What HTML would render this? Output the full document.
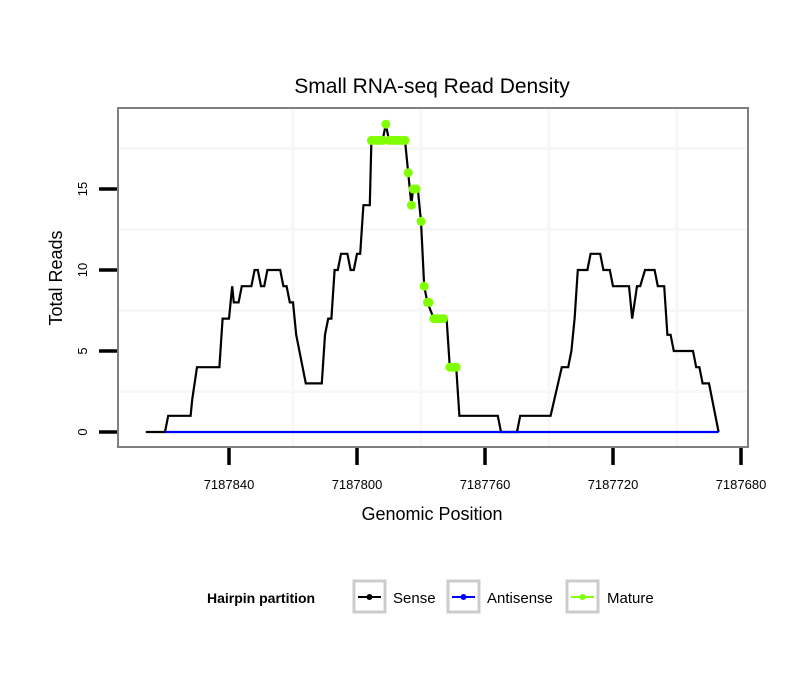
<!DOCTYPE html>
<html><head><meta charset="utf-8"><style>
body{margin:0;background:#fff;}
svg{display:block;font-family:"Liberation Sans",sans-serif;}
</style></head><body>
<svg width="810" height="690" viewBox="0 0 810 690">
<rect x="0" y="0" width="810" height="690" fill="#fff"/>
<g id="grid"></g>
<rect x="118" y="108" width="630" height="339" fill="none" stroke="#7f7f7f" stroke-width="2"/>
<g id="ticks"></g>
<g id="series"></g>
<text x="432" y="93" text-anchor="middle" font-size="21">Small RNA-seq Read Density</text>
<text x="432" y="520" text-anchor="middle" font-size="18">Genomic Position</text>
<text transform="translate(62,278) rotate(-90)" text-anchor="middle" font-size="18">Total Reads</text>
<g>
<text x="207" y="603" font-size="14" font-weight="bold">Hairpin partition</text>
<g>
<rect x="354" y="581" width="31" height="31" fill="#fff" stroke="#ccc" stroke-width="3"/>
<line x1="358" y1="597" x2="381" y2="597" stroke="#000" stroke-width="2"/><circle cx="369.5" cy="597" r="3" fill="#000"/>
<text x="393" y="603" font-size="15">Sense</text></g>
<g>
<rect x="448" y="581" width="31" height="31" fill="#fff" stroke="#ccc" stroke-width="3"/>
<line x1="452" y1="597" x2="475" y2="597" stroke="#00f" stroke-width="2"/><circle cx="463.5" cy="597" r="3" fill="#00f"/>
<text x="487" y="603" font-size="15">Antisense</text></g>
<g>
<rect x="567" y="581" width="31" height="31" fill="#fff" stroke="#ccc" stroke-width="3"/>
<line x1="571" y1="597" x2="594" y2="597" stroke="#7fff00" stroke-width="2"/><circle cx="582.5" cy="597" r="3" fill="#7fff00"/>
<text x="607" y="603" font-size="15">Mature</text></g>
</g>
</svg>
<script>
const senseX=[7187866,7187860,7187859,7187852,7187851.5,7187850,7187843,7187842,7187840,7187839,7187838.5,7187837,7187836,7187833,7187832,7187831,7187830,7187829,7187828,7187824,7187823,7187822,7187821,7187820,7187819,7187816,7187811,7187810,7187809,7187808,7187807,7187806,7187805,7187803,7187802,7187801,7187800,7187799,7187798,7187796,7187795.5,7187792,7187791,7187790,7187785,7187784,7187783,7187782.5,7187781,7187780,7187779,7187778,7187776,7187772,7187771,7187769,7187768,7187756,7187755,7187750,7187749,7187739.5,7187736,7187734,7187733,7187732,7187731,7187728,7187727,7187724,7187723,7187721,7187720,7187715,7187714,7187712.5,7187711.5,7187710,7187707,7187706,7187704,7187703,7187702,7187701,7187695,7187694,7187693,7187692,7187690,7187687];
const senseY=[0,0,1,1,2,4,4,7,7,9,8,8,9,9,10,10,9,9,10,10,9,9,8,8,6,3,3,6,7,7,10,10,11,11,10,10,11,11,14,14,18,18,19,18,18,16,14,15,15,13,9,8,7,7,4,4,1,1,0,0,1,1,4,4,5,7,10,10,11,11,10,10,9,9,7,9,9,10,10,9,9,6,6,5,5,4,4,3,3,0];
const antiX=[7187860,7187687];
const antiY=[0,0];
const matureX=[7187795.5,7187795,7187794,7187793,7187792,7187791,7187790,7187789,7187788,7187787,7187786,7187785,7187784,7187783,7187782.5,7187782,7187781.5,7187780,7187779,7187778,7187777.5,7187776,7187775,7187774,7187773,7187771,7187770,7187769];
const matureY=[18,18,18,18,18,19,18,18,18,18,18,18,16,14,15,15,15,13,9,8,8,7,7,7,7,4,4,4];
const xTicks=[7187840,7187800,7187760,7187720,7187680];
const yTicks=[0,5,10,15];
const minorX=[7187820,7187780,7187740,7187700];
const minorY=[2.5,7.5,12.5,17.5];
const NS="http://www.w3.org/2000/svg";
function sx(p){return 229+(7187840-p)*3.2;}
function sy(v){return 432-v*16.2;}
function mk(tag,attrs,parent){const e=document.createElementNS(NS,tag);for(const k in attrs)e.setAttribute(k,attrs[k]);parent.appendChild(e);return e;}
const grid=document.getElementById('grid'),ticks=document.getElementById('ticks'),ser=document.getElementById('series');
minorX.forEach(p=>{const l=mk('line',{x1:sx(p),x2:sx(p),y1:109,y2:446,stroke:'#f7f7f7','stroke-width':3},grid);

});
minorY.forEach(v=>{const l=mk('line',{x1:119,x2:747,y1:sy(v),y2:sy(v),stroke:'#f7f7f7','stroke-width':3},grid);

});
xTicks.forEach(p=>{const l=mk('line',{x1:sx(p),x2:sx(p),y1:448,y2:465,stroke:'#000','stroke-width':3.5},ticks);


const t=mk('text',{x:sx(p),y:489,'text-anchor':'middle','font-size':13},ticks);t.textContent=p;

});
yTicks.forEach(v=>{const l=mk('line',{x1:99,x2:117,y1:sy(v),y2:sy(v),stroke:'#000','stroke-width':3.5},ticks);


const t=mk('text',{transform:`translate(87,${sy(v)}) rotate(-90)`,'text-anchor':'middle','font-size':13},ticks);t.textContent=v;

});
function pts(X,Y){return X.map((x,i)=>sx(x)+','+sy(Y[i])).join(' ');}
const s=mk('polyline',{points:pts(senseX,senseY),fill:'none',stroke:'#000','stroke-width':2.2,'stroke-linejoin':'miter'},ser);


const a=mk('polyline',{points:pts(antiX,antiY),fill:'none',stroke:'#00f','stroke-width':2.2},ser);


matureX.forEach((x,i)=>{const c=mk('circle',{cx:sx(x),cy:sy(matureY[i]),r:4.5,fill:'#7fff00'},ser);

});
</script>
</body></html>
